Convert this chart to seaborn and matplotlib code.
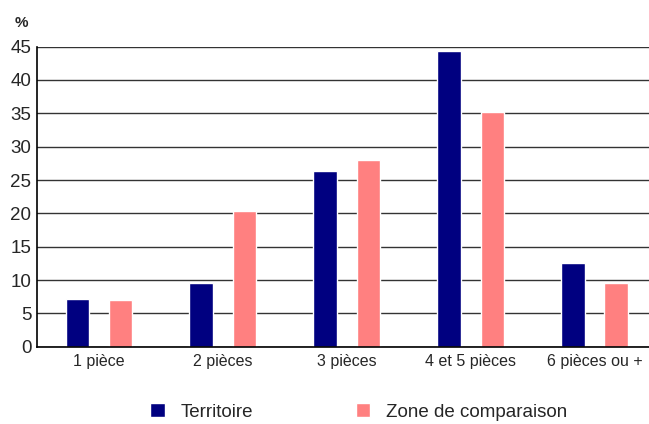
import seaborn as sns
import matplotlib.pyplot as plt
import pandas as pd

categories = ['1 pièce', '2 pièces', '3 pièces', '4 et 5 pièces', '6 pièces ou +']
territoire = [7.15, 9.55, 26.35, 44.35, 12.55]
zone_comparaison = [7.0, 20.35, 28.0, 35.2, 9.55]
series = ['Territoire', 'Zone de comparaison']
colors = ['#000080', '#FF8080']

df = pd.DataFrame({
    'categorie': categories * 2,
    'valeur': territoire + zone_comparaison,
    'serie': [series[0]] * len(categories) + [series[1]] * len(categories),
})

sns.set_style('white')
plt.rcParams['font.family'] = ['Liberation Sans', 'DejaVu Sans']

fig = plt.figure(figsize=(6.49, 4.24), dpi=100)
ax = fig.add_axes([0.057, 0.182, 0.9545, 0.708])

sns.barplot(data=df, x='categorie', y='valeur', hue='serie', palette=colors,
            width=0.7, gap=0.46, saturation=1, ax=ax, errorbar=None)

ax.set_ylim(0, 45)
ax.set_xlim(-0.5, 4.5)
ax.set_yticks(range(0, 46, 5))
ax.yaxis.grid(True, color='#333333', linewidth=1)
ax.set_axisbelow(True)
ax.set_xlabel('')
ax.set_ylabel('')
ax.tick_params(axis='y', labelsize=13.5, length=0, pad=4)
ax.tick_params(axis='x', labelsize=11.5, length=0, pad=5)
for side in ['top', 'right']:
    ax.spines[side].set_visible(False)
for side in ['left', 'bottom']:
    ax.spines[side].set_color('black')
    ax.spines[side].set_linewidth(1.2)

fig.text(0.022, 0.945, '%', fontsize=11, fontweight='bold', ha='left', va='center')

handles, labels = ax.get_legend_handles_labels()
ax.legend_.remove()
fig.legend(handles, labels, loc='center', bbox_to_anchor=(0.553, 0.028),
           ncol=2, frameon=False, fontsize=13.5, handlelength=0.75, handleheight=0.75,
           handletextpad=0.85, columnspacing=5.5)

fig.savefig('out.png', dpi=100)
